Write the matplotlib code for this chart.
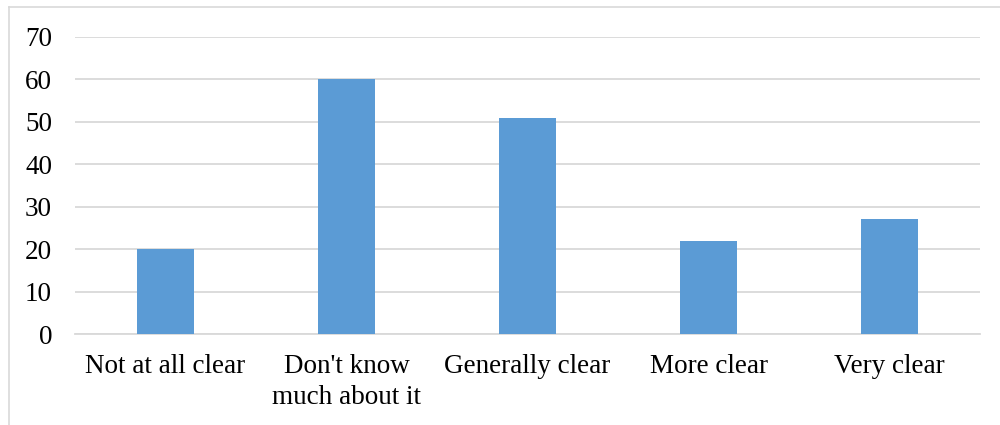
import matplotlib
matplotlib.use("Agg")
import matplotlib.pyplot as plt
from matplotlib.lines import Line2D

categories = ["Not at all clear", "Don't know\nmuch about it", "Generally clear", "More clear", "Very clear"]
values = [20, 60, 51, 22, 27]
yticks = [0, 10, 20, 30, 40, 50, 60, 70]

plt.rcParams["font.family"] = ["Liberation Serif", "DejaVu Serif"]

fig = plt.figure(figsize=(10, 4.25), dpi=100)
ax = fig.add_axes([0.075, 1 - 334 / 425, 0.905, (334 - 37) / 425])

x = list(range(len(categories)))
ax.bar(x, values, width=0.315, color="#5B9BD5", zorder=3)

ax.set_xlim(-0.5, len(categories) - 0.5)
ax.set_ylim(0, 70)
ax.set_yticks(yticks)
ax.set_xticks(x)
ax.set_xticklabels(categories, fontsize=19.5, linespacing=1.3)
ax.tick_params(axis="y", labelsize=19.5, length=0, pad=16.5)
ax.tick_params(axis="x", length=0, pad=14.5)
ax.yaxis.grid(True, color="#D9D9D9", linewidth=1.3, zorder=0)
for s in ["top", "right", "left"]:
    ax.spines[s].set_visible(False)
ax.spines["bottom"].set_color("#D9D9D9")
ax.spines["bottom"].set_linewidth(1.3)

# chart frame (left and top edges)
fig.add_artist(Line2D([8.5 / 1000, 8.5 / 1000], [0, 1 - 7 / 425], color="#D9D9D9", linewidth=1.2))
fig.add_artist(Line2D([8.5 / 1000, 1], [1 - 7 / 425, 1 - 7 / 425], color="#D9D9D9", linewidth=1.2))

fig.savefig("out.png", dpi=100, facecolor="white")
